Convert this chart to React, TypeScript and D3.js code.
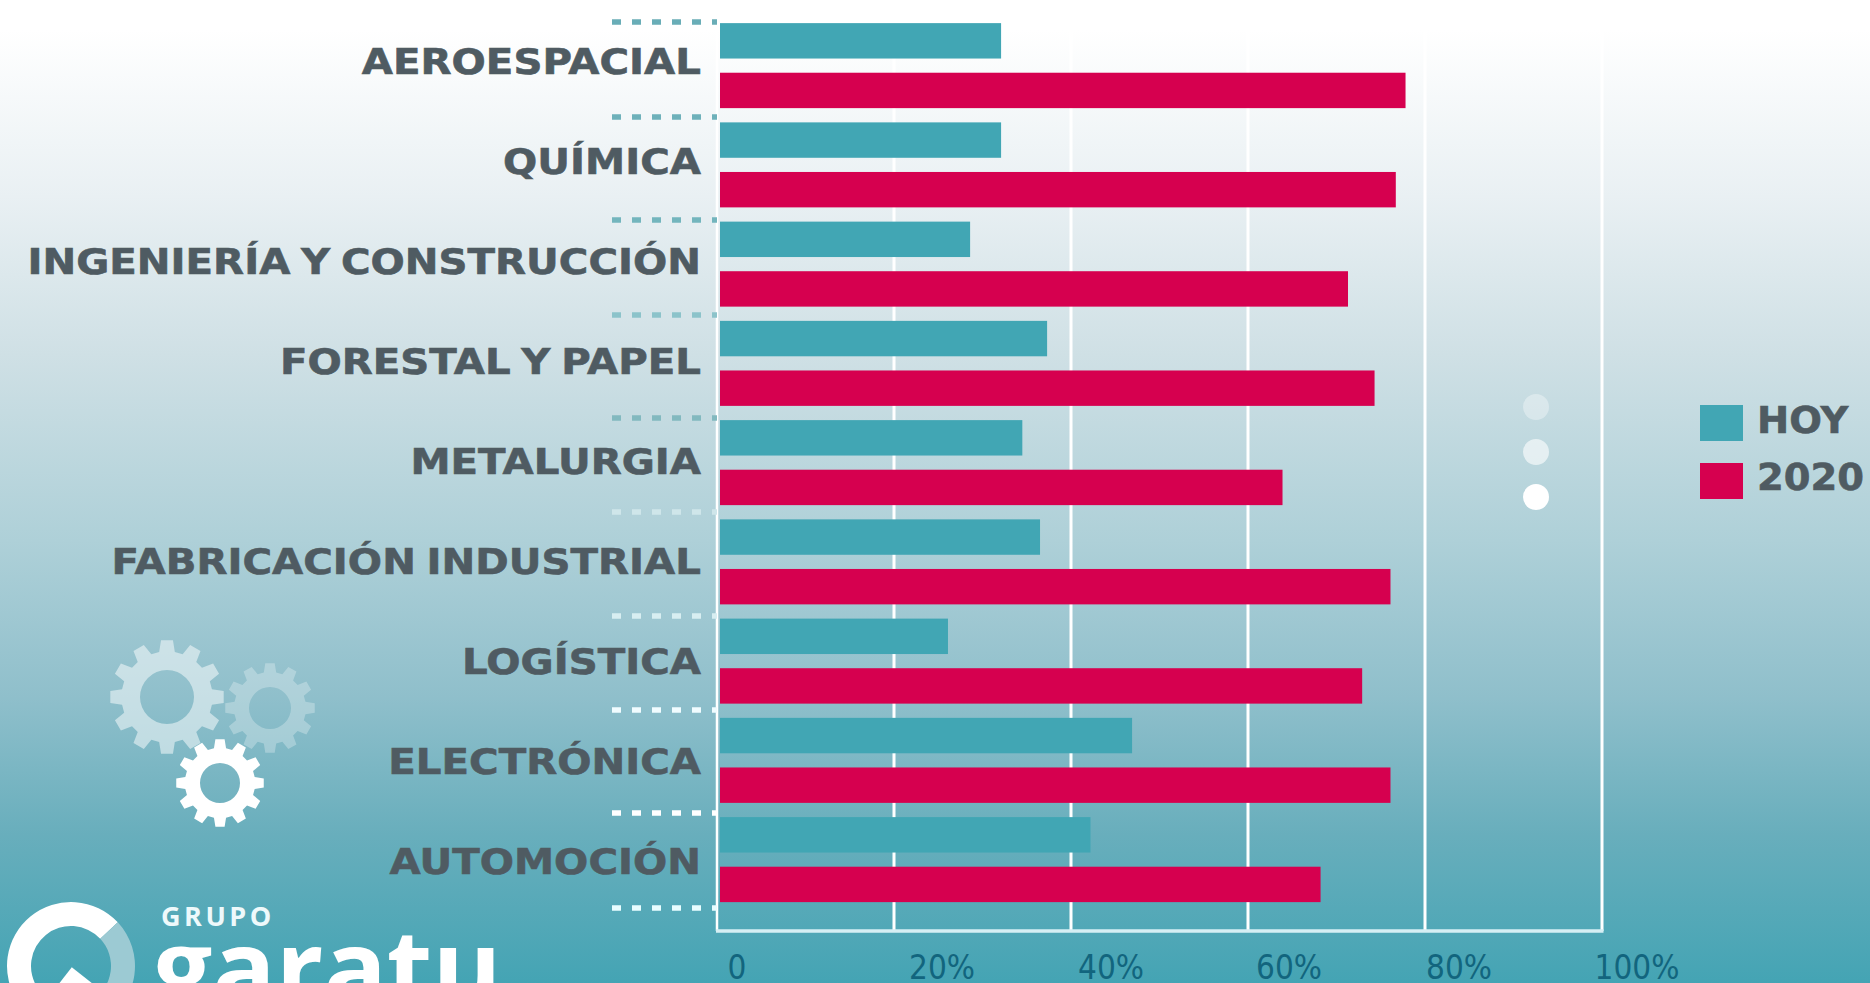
import React from "react";
import * as d3 from "d3";

const categories = ["AEROESPACIAL","QUÍMICA","INGENIERÍA Y CONSTRUCCIÓN","FORESTAL Y PAPEL","METALURGIA","FABRICACIÓN INDUSTRIAL","LOGÍSTICA","ELECTRÓNICA","AUTOMOCIÓN"];
const hoy = [32.1,32.1,28.6,37.3,34.5,36.5,26.1,46.9,42.2];
const y2020 = [77.8,76.7,71.3,74.3,63.9,76.1,72.9,76.1,68.2];
const seriesNames = ["HOY","2020"];
const seriesColors = ["#41a6b4","#d6004f"];
const tickValues = [0,20,40,60,80,100];
const tickLabels = ["0","20%","40%","60%","80%","100%"];
// Tick labels sit to the right of their gridlines by an uneven amount.
const tickLabelShift = [20,48,40,41,34,35];
// Dotted rules between the categories: height and colour, from dark teal to white.
const ruleYs = [22,117,220,315,418,512,616,710,813,908];
const ruleColors = ["#69adb7","#6eb1ba","#73b5bd","#8cc3ca","#82b9bf","#cfe6ea","#d8eef1","#f0fcff","#ffffff","#e8fdff"];
const legendDots = [{ cy: 407, opacity: 0.35 },{ cy: 452, opacity: 0.6 },{ cy: 497, opacity: 1 }];
const gears = [
  { cx: 167, cy: 697, r: 57, hole: 27, fill: "#ffffff", opacity: 0.5 },
  { cx: 270, cy: 708, r: 45, hole: 21, fill: "#ffffff", opacity: 0.28 },
  { cx: 220, cy: 783, r: 44, hole: 20, fill: "#ffffff", opacity: 1 },
];
const backgroundStops = [
  { offset: 0.03, color: "#ffffff" },
  { offset: 0.2, color: "#e9f0f3" },
  { offset: 0.36, color: "#cfe0e5" },
  { offset: 0.55, color: "#aed0d8" },
  { offset: 0.71, color: "#8fbfcb" },
  { offset: 0.85, color: "#68aebc" },
  { offset: 1, color: "#44a4b4" },
];

const W = 1870, H = 983;
const x = d3.scaleLinear().domain([0, 100]).range([717, 1602]);
const yBand = d3.scaleBand<string>().domain(categories).range([16, 909.25]).paddingInner(0.1435).paddingOuter(0.0718);
const ySeries = d3.scaleBand<string>().domain(seriesNames).range([0, yBand.bandwidth()]).paddingInner(0.286);
const yLabel = d3.scalePoint<string>().domain(categories).range([74, 874]);

// Toothed outline with a round hole; evenodd fill leaves the hole open.
function gearPath(r: number, hole: number) {
  const teeth = 12;
  const root = r * 0.8;
  const pts: [number, number][] = [];
  for (let i = 0; i < teeth; i++) {
    const s = (2 * Math.PI) / teeth;
    const a = i * s;
    pts.push([a - s * 0.33, root], [a - s * 0.2, r], [a + s * 0.2, r], [a + s * 0.33, root]);
  }
  const outline = d3.lineRadial().curve(d3.curveLinearClosed)(pts) as string;
  const p = d3.path();
  p.moveTo(hole, 0);
  p.arc(0, 0, hole, 0, 2 * Math.PI);
  p.closePath();
  return outline + p.toString();
}

const ringLight = d3.arc()({ innerRadius: 40, outerRadius: 64, startAngle: 0.82, endAngle: 2.6 }) as string;
const ringWhite = d3.arc()({ innerRadius: 40, outerRadius: 64, startAngle: 2.6, endAngle: 2 * Math.PI + 0.82 }) as string;

const labelFont = "'DejaVu Sans', Verdana, sans-serif";

export default function App() {
  return (
    <svg width={W} height={H} viewBox={`0 0 ${W} ${H}`} style={{ position: "absolute", left: 0, top: 0, display: "block" }}>
      <defs>
        <linearGradient id="page" x1="0" y1="0" x2="0" y2="1">
          {backgroundStops.map((s) => <stop key={s.offset} offset={s.offset} stopColor={s.color} />)}
        </linearGradient>
      </defs>
      <rect width={W} height={H} fill="url(#page)" />

      {tickValues.map((t) => (
        <line key={t} x1={x(t)} x2={x(t)} y1={0} y2={931} stroke="#ffffff" strokeWidth={t === 0 ? 2.5 : 3} />
      ))}
      <line x1={x(0) - 1} x2={x(100) + 1.5} y1={931} y2={931} stroke="#d6eff4" strokeWidth={3.5} />

      {ruleYs.map((ry, i) => (
        <line key={ry} x1={612} x2={717} y1={ry} y2={ry} stroke={ruleColors[i]} strokeWidth={5.5} strokeDasharray="9 11" />
      ))}

      {categories.map((c, i) => {
        const top = yBand(c) as number;
        return (
          <g key={c}>
            <rect x={x(0) + 3} y={top + (ySeries("HOY") as number)} width={x(hoy[i]) - x(0) - 3} height={ySeries.bandwidth()} fill={seriesColors[0]} />
            <rect x={x(0) + 3} y={top + (ySeries("2020") as number)} width={x(y2020[i]) - x(0) - 3} height={ySeries.bandwidth()} fill={seriesColors[1]} />
            <text transform={`translate(701,${yLabel(c)}) scale(1.12,1)`} textAnchor="end" fontFamily={labelFont} fontWeight={700} fontSize={36} wordSpacing={-3} fill="#4f5b62" stroke="#4f5b62" strokeWidth={0.6}>{c}</text>
          </g>
        );
      })}

      {tickValues.map((t, i) => (
        <text key={t} x={x(t) + tickLabelShift[i]} y={979} textAnchor="middle" fontFamily="'DejaVu Sans Condensed', 'Liberation Sans', sans-serif" fontSize={33} fill="#12657e">{tickLabels[i]}</text>
      ))}

      {legendDots.map((d) => <circle key={d.cy} cx={1536} cy={d.cy} r={13} fill="#ffffff" opacity={d.opacity} />)}

      {seriesNames.map((s, i) => (
        <g key={s}>
          <rect x={1700} y={405 + i * 58} width={43} height={36} fill={seriesColors[i]} />
          <text transform={`translate(1757,${433 + i * 57}) scale(1.04,1)`} fontFamily={labelFont} fontWeight={700} fontSize={37} fill="#4f5b62" stroke="#4f5b62" strokeWidth={0.6}>{s}</text>
        </g>
      ))}

      {gears.map((g) => (
        <path key={g.cx} transform={`translate(${g.cx},${g.cy})`} d={gearPath(g.r, g.hole)} fillRule="evenodd" fill={g.fill} opacity={g.opacity} />
      ))}

      <g>
        <g transform="translate(71,966)">
          <path d={ringWhite} fill="#ffffff" />
          <path d={ringLight} fill="#9ccad3" />
          <line x1={-6} y1={10} x2={40} y2={46} stroke="#ffffff" strokeWidth={22} />
        </g>
        <text x={161} y={926} fontFamily="'Open Sans', sans-serif" fontWeight={700} fontSize={27} letterSpacing={3.5} fill="#eef9fb">GRUPO</text>
        <text x={153} y={1006} fontFamily="'Open Sans', sans-serif" fontWeight={700} fontSize={105} fill="#ffffff">garatu</text>
      </g>
    </svg>
  );
}
